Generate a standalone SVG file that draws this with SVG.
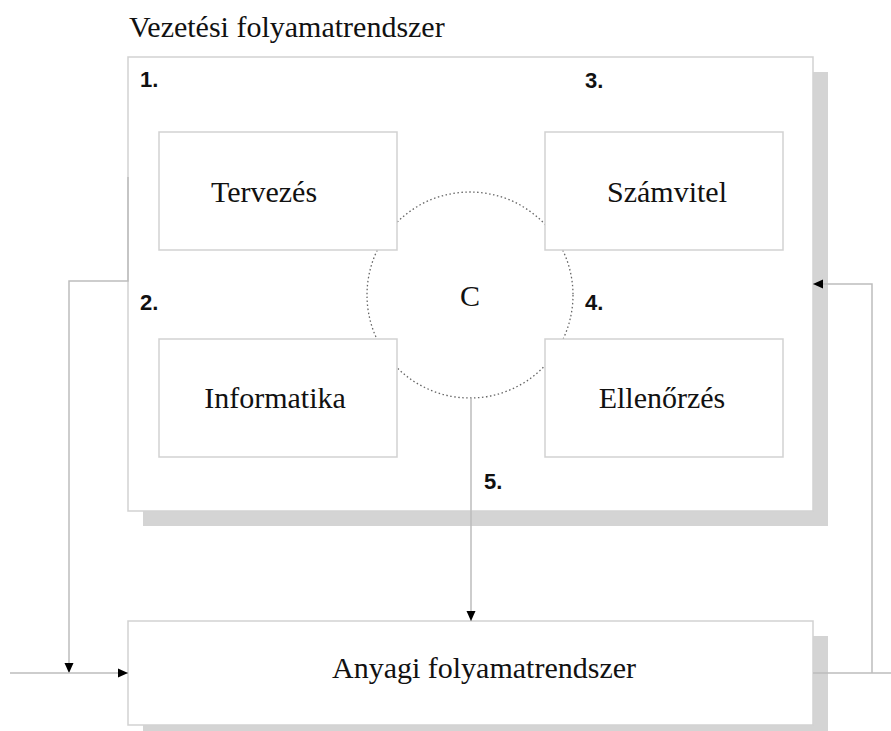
<svg xmlns="http://www.w3.org/2000/svg" width="891" height="731" viewBox="0 0 891 731">
<defs>
<style>
.shadow{fill:#d4d4d4;stroke:none}
.box{fill:#ffffff;stroke:#d2d2d2;stroke-width:1.5}
.lbl{font-family:"Liberation Serif","Times New Roman",serif;font-size:30px;fill:#111}
.num{font-family:"Liberation Sans",Arial,sans-serif;font-size:22px;font-weight:bold;fill:#111}
.conn{fill:none;stroke:#bdbdbd;stroke-width:1.5}
.circ{fill:none;stroke:#666;stroke-width:1.3;stroke-dasharray:1.5 2.5}
</style>
<marker id="arr" markerWidth="11" markerHeight="11" refX="10" refY="5.5" orient="auto" markerUnits="userSpaceOnUse">
<path d="M0,1 L10,5.5 L0,10 Z" fill="#000"/>
</marker>
</defs>
<rect width="891" height="731" fill="#ffffff"/>
<text class="lbl" x="129" y="37">Vezetési folyamatrendszer</text>
<g id="vezetesi">
<rect class="shadow" x="143" y="72" width="685" height="454"/>
<rect class="box" x="128" y="57" width="685" height="454"/>
<circle id="C-circle" class="circ" cx="470" cy="295" r="103"/>
<text class="num" x="140" y="87">1.</text>
<text class="num" x="585" y="88">3.</text>
<text class="num" x="140" y="310">2.</text>
<text class="num" x="585" y="310">4.</text>
<text class="num" x="484" y="489">5.</text>
<text class="lbl" x="470" y="306" text-anchor="middle">C</text>
</g>
<g id="tervezes">
<rect class="box" x="159" y="132" width="238" height="118"/>
<text class="lbl" x="264" y="202" text-anchor="middle">Tervezés</text>
</g>
<g id="szamvitel">
<rect class="box" x="545" y="132" width="238" height="118"/>
<text class="lbl" x="667" y="202" text-anchor="middle">Számvitel</text>
</g>
<g id="informatika">
<rect class="box" x="159" y="339" width="238" height="118"/>
<text class="lbl" x="275" y="408" text-anchor="middle">Informatika</text>
</g>
<g id="ellenorzes">
<rect class="box" x="545" y="339" width="238" height="118"/>
<text class="lbl" x="662" y="408" text-anchor="middle">Ellenőrzés</text>
</g>
<g id="anyagi">
<rect class="shadow" x="143" y="636" width="685" height="104"/>
<rect class="box" x="128" y="621" width="685" height="104"/>
<text class="lbl" x="484" y="678" text-anchor="middle">Anyagi folyamatrendszer</text>
</g>
<g id="connectors">
<path class="conn" d="M128,177 V281 H69 V673" marker-end="url(#arr)"/>
<path class="conn" d="M10,673 H128" marker-end="url(#arr)"/>
<path class="conn" d="M471,398 V621" marker-end="url(#arr)"/>
<path class="conn" d="M813,673 H891"/>
<path class="conn" d="M872,673 V284 H813" marker-end="url(#arr)"/>
</g>
</svg>
